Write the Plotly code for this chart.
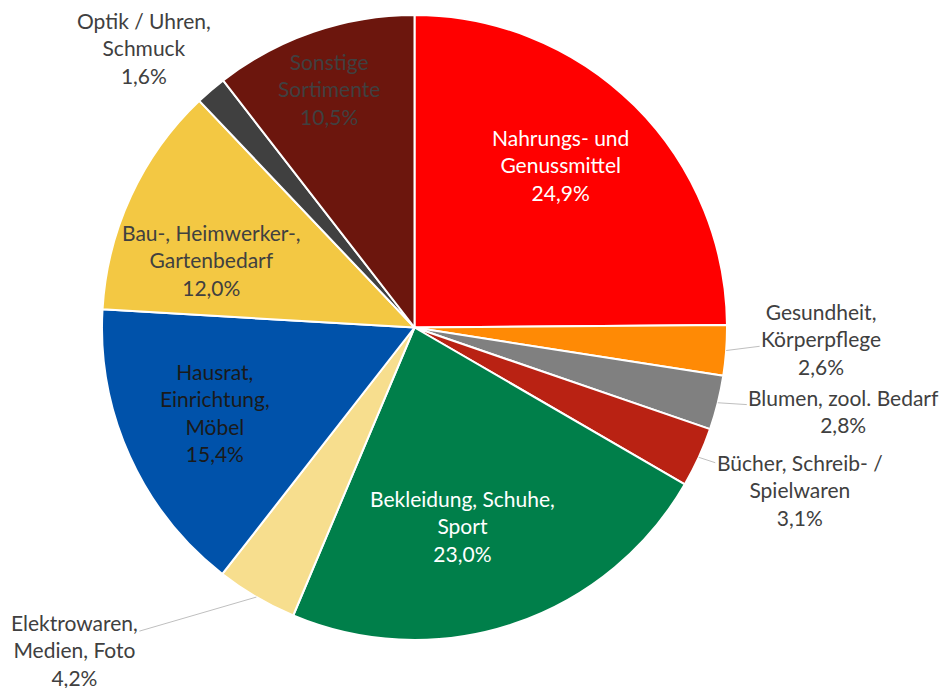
import math
import plotly.graph_objects as go

# ---- data ----
categories = [
    "Nahrungs- und<br>Genussmittel",
    "Gesundheit,<br>Körperpflege",
    "Blumen, zool. Bedarf",
    "Bücher, Schreib- /<br>Spielwaren",
    "Bekleidung, Schuhe,<br>Sport",
    "Elektrowaren,<br>Medien, Foto",
    "Hausrat,<br>Einrichtung,<br>Möbel",
    "Bau-, Heimwerker-,<br>Gartenbedarf",
    "Optik / Uhren,<br>Schmuck",
    "Sonstige<br>Sortimente",
]
shares = [24.9, 2.6, 2.8, 3.1, 23.0, 4.2, 15.4, 12.0, 1.6, 10.5]

# ---- style ----
colors = ["#FF0000", "#FF8A05", "#808080", "#B92213", "#007F4A",
          "#F7DE8E", "#0052AA", "#F3C843", "#404040", "#6C160D"]
# label mode per slice:
#   ("in", text color, radial fraction, nudge x, nudge y)
#   ("out", ax, ay, draw leader line)
label_style = [
    ("in", "#FFFFFF", 0.70, -8, -7),
    ("out", 95, -12, True),
    ("out", 126, 8, True),
    ("out", 101, 33, True),
    ("in", "#FFFFFF", 0.66, -18, 3),
    ("out", -182, 53, True),
    ("in", "#1A1A1A", 0.70, 0, -5),
    ("in", "#404040", 0.70, -5, 25),
    ("out", -67, -42, False),
    ("in", "#404040", 0.80, -5, -2),
]

W, H = 948, 688
OFF = 8  # page body margin
pie_left, pie_right, pie_top, pie_bottom = 102 - OFF, 727 - OFF, 15 - OFF, 640 - OFF
FONT = "Lato"
FS = 21

fig = go.Figure(go.Pie(
    labels=[c.replace("<br>", " ") for c in categories],
    values=shares,
    sort=False,
    direction="clockwise",
    rotation=0,
    marker=dict(colors=colors, line=dict(color="#FFFFFF", width=2)),
    textinfo="none",
    hoverinfo="label+percent",
    showlegend=False,
    domain=dict(x=[pie_left / W, pie_right / W], y=[1 - pie_bottom / H, 1 - pie_top / H]),
))

cx = (pie_left + pie_right) / 2
cy = (pie_top + pie_bottom) / 2
R = (pie_right - pie_left) / 2
total = sum(shares)

annotations = []
cum = 0.0
for cat, v, st in zip(categories, shares, label_style):
    mid = (cum + v / 2) / total * 2 * math.pi
    cum += v
    txt = cat + "<br>" + f"{v:.1f}".replace(".", ",") + "%"
    common = dict(xref="paper", yref="paper", xanchor="center", yanchor="middle", text=txt)
    if st[0] == "in":
        frac = st[2]
        px = cx + R * frac * math.sin(mid) + st[3]
        py = cy - R * frac * math.cos(mid) + st[4]
        annotations.append(dict(x=px / W, y=1 - py / H, showarrow=False,
                                font=dict(family=FONT, size=FS, color=st[1]), **common))
    else:
        px = cx + R * math.sin(mid)
        py = cy - R * math.cos(mid)
        if st[3]:
            annotations.append(dict(x=px / W, y=1 - py / H,
                                    showarrow=True, ax=st[1], ay=st[2],
                                    arrowhead=0, arrowwidth=1, arrowcolor="#BFBFBF",
                                    standoff=0, startstandoff=0,
                                    font=dict(family=FONT, size=FS, color="#404040"), **common))
        else:
            annotations.append(dict(x=px / W, y=1 - py / H,
                                    showarrow=False, xshift=st[1], yshift=-st[2],
                                    font=dict(family=FONT, size=FS, color="#404040"), **common))

fig.update_layout(
    width=W, height=H,
    margin=dict(l=0, r=0, t=0, b=0),
    paper_bgcolor="#FFFFFF",
    plot_bgcolor="#FFFFFF",
    annotations=annotations,
)

fig.write_html("out.html")
